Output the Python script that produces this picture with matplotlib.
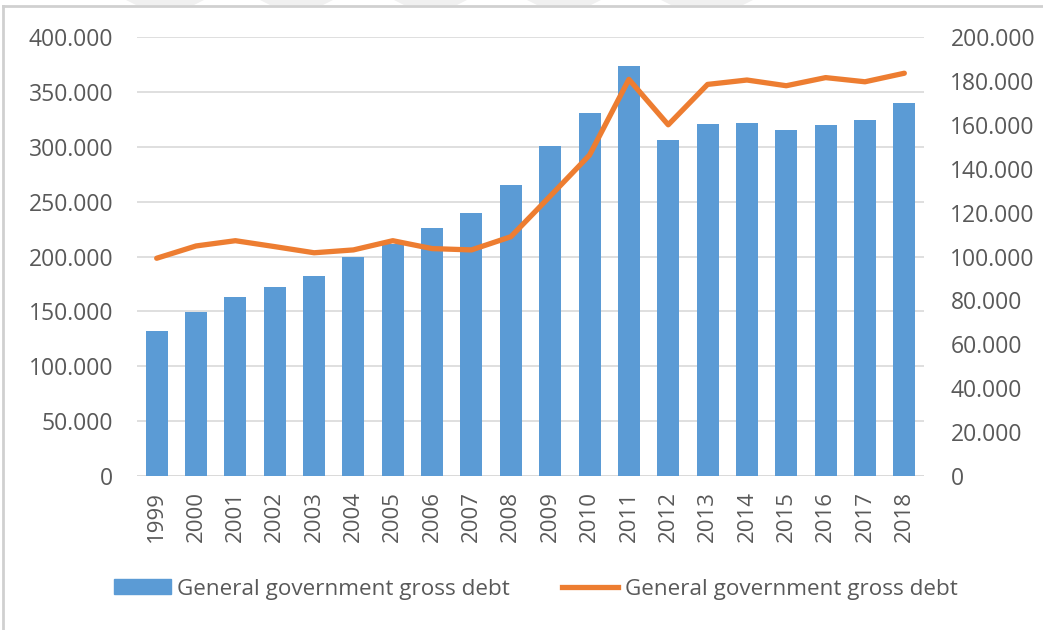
import matplotlib.pyplot as plt
from matplotlib.patches import Polygon
from matplotlib.lines import Line2D
from matplotlib.ticker import FuncFormatter

years = [str(y) for y in range(1999, 2019)]
debt_bars = [132, 149, 163, 172, 182, 200, 211, 226, 240, 265,
             301, 331, 374, 306, 321, 322, 315, 320, 324, 340]
debt_line = [99.2, 104.8, 107.2, 104.5, 101.7, 103.0, 107.2, 103.6, 103.0, 109.0,
             127.5, 146.2, 180.7, 160.0, 178.4, 180.4, 177.8, 181.5, 179.6, 183.5]
legend_labels = ["General government gross debt", "General government gross debt"]

BLUE = "#5B9BD5"
ORANGE = "#ED7D31"
GRID = "#D9D9D9"
TEXT = "#595959"

plt.rcParams['font.family'] = ['Open Sans', 'DejaVu Sans']


def thousands(v, pos):
    if v == 0:
        return "0"
    return "{:.3f}".format(v)


fig = plt.figure(figsize=(10.43, 6.3), dpi=100)
ax = fig.add_axes([137 / 1043, 1 - 476 / 630, 787 / 1043, 439 / 630])
ax2 = ax.twinx()

x = list(range(len(years)))
ax.bar(x, debt_bars, width=0.56, color=BLUE, zorder=2)
ax2.plot(x, debt_line, color=ORANGE, lw=3.8, solid_capstyle='round', zorder=3)

ax.set_xlim(-0.5, len(years) - 0.5)
ax.set_ylim(0, 400)
ax2.set_ylim(0, 200)
ax.set_yticks(range(0, 401, 50))
ax2.set_yticks(range(0, 201, 20))
ax.yaxis.set_major_formatter(FuncFormatter(thousands))
ax2.yaxis.set_major_formatter(FuncFormatter(thousands))

ax.set_xticks(x)
ax.set_xticklabels(years, rotation=90)
ax.yaxis.grid(True, color=GRID, lw=1.2, zorder=0)
ax.set_axisbelow(True)

for a in (ax, ax2):
    for side in ('top', 'left', 'right', 'bottom'):
        a.spines[side].set_visible(False)
ax.axhline(0, color=GRID, lw=1.2, zorder=1)

ax.tick_params(axis='y', length=0, pad=17, labelsize=16.5, labelcolor=TEXT)
ax.tick_params(axis='x', length=0, pad=11, labelsize=16, labelcolor=TEXT)
ax2.tick_params(axis='y', length=0, pad=19, labelsize=16.5, labelcolor=TEXT)

handles = [plt.Rectangle((0, 0), 1, 1, color=BLUE),
           Line2D([0], [0], color=ORANGE, lw=3.8)]
fig.legend(handles, legend_labels, loc='center', bbox_to_anchor=(0.514, 1 - 589 / 630),
           ncol=2, frameon=False, fontsize=16.2, labelcolor=TEXT,
           handlelength=2.5, handleheight=0.65, handletextpad=0.3, columnspacing=2.3)

# thin frame along the top and left edges
fig.add_artist(Line2D([3 / 1043, 3 / 1043], [0, 1 - 6 / 630], transform=fig.transFigure,
                      color="#D0D0D0", lw=2))
fig.add_artist(Line2D([3 / 1043, 1], [1 - 6 / 630, 1 - 6 / 630], transform=fig.transFigure,
                      color="#D0D0D0", lw=2))

# faint slanted shapes above the frame
for x0, x1 in [(136, 194), (270, 323), (404, 457), (537, 591), (671, 743)]:
    pts = [(x0 / 1043, 1 - 5 / 630), (x1 / 1043, 1 - 5 / 630),
           ((x1 + 10) / 1043, 1.0), ((x0 - 10) / 1043, 1.0)]
    fig.add_artist(Polygon(pts, closed=True, transform=fig.transFigure,
                           facecolor="#F0F0F0", edgecolor='none'))

fig.savefig("out.png", dpi=100)
